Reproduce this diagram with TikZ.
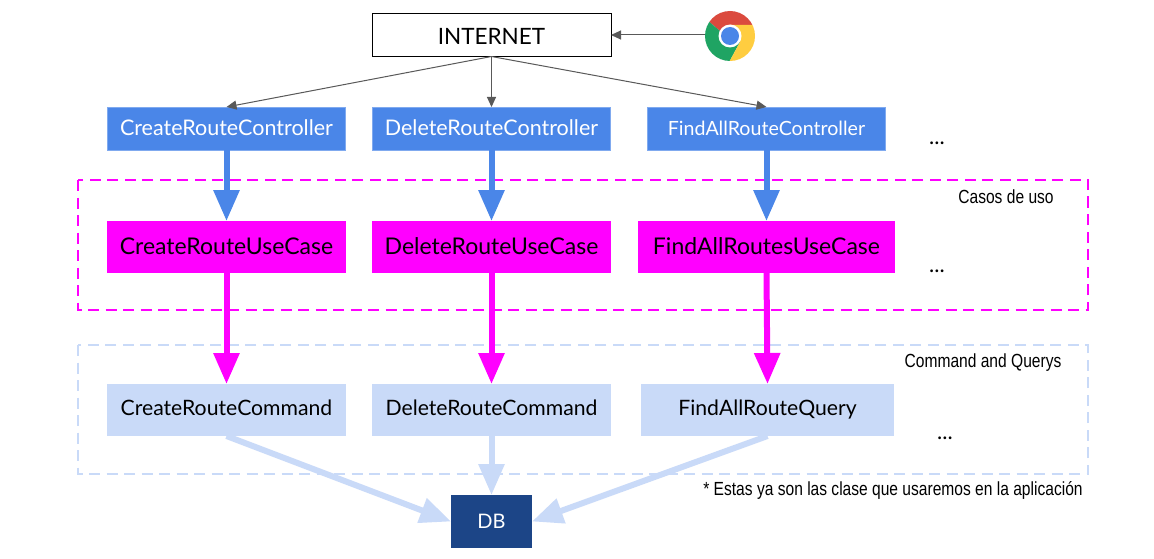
\documentclass[tikz,border=0pt]{standalone}
\usepackage{fontspec}
\setmainfont{Lato}
\newfontfamily\cond[FakeStretch=0.82]{Liberation Sans}
\usetikzlibrary{arrows.meta}
\definecolor{cblue}{HTML}{4A86E8}
\definecolor{cmag}{HTML}{FF00FF}
\definecolor{clight}{HTML}{C9DAF8}
\definecolor{cdark}{HTML}{1C4587}
\definecolor{cgrey}{HTML}{595959}
\definecolor{gred}{HTML}{DB4A3E}
\definecolor{ggreen}{HTML}{1FA463}
\definecolor{gyellow}{HTML}{FFCD40}
\tikzset{
  box/.style={inner sep=0pt,outer sep=0pt,anchor=center,font=\fontsize{21.5}{24}\selectfont},
  ctrl/.style={box,fill=cblue,text=white,draw=cblue!70!white,line width=.6pt,text height=17pt,text depth=2pt},
  usecase/.style={box,fill=cmag,text=black,font=\fontsize{23}{24}\selectfont,text height=17pt,text depth=3pt},
  cmdbox/.style={box,fill=clight,text=black,font=\fontsize{21.2}{24}\selectfont,text height=15pt,text depth=5pt},
  thin arrow/.style={draw=cgrey,line width=1pt,-{Triangle[width=9pt,length=10pt]},shorten >=0pt},
  thick arrow/.style={line width=6pt,-{Triangle[width=25pt,length=31pt]}},
  frame/.style={dashed,dash pattern=on 11pt off 6.5pt,line width=2pt},
  note/.style={inner sep=0pt,font=\cond\fontsize{19}{22}\selectfont,text=black},
  dots/.style={inner sep=0pt,font=\fontsize{22}{24}\selectfont,text=black}
}
\begin{document}
\begin{tikzpicture}[x=1pt,y=-1pt]
\useasboundingbox (0,0) rectangle (1154,559);
\fill[white] (0,0) rectangle (1154,559);
% dashed frames
\draw[frame,cmag] (78,180) rectangle (1088,310);
\draw[frame,clight] (78,345) rectangle (1088,474);
% nodes
\node[box,draw=black,line width=1pt,fill=white,minimum width=239pt,minimum height=43pt,font=\fontsize{22.5}{24}\selectfont,text height=19pt,text depth=0pt] (internet) at (491.5,35) {INTERNET};
\node[circle,inner sep=0pt,outer sep=0pt,minimum size=50pt] (chrome) at (730,35) {};
\node[ctrl,minimum width=238pt,minimum height=43pt] (c1) at (226.5,128.5) {CreateRouteController};
\node[ctrl,minimum width=238pt,minimum height=43pt] (c2) at (491.5,128.5) {DeleteRouteController};
\node[ctrl,minimum width=238pt,minimum height=43pt,font=\fontsize{19.6}{24}\selectfont] (c3) at (766.5,128.5) {FindAllRouteController};
\node[usecase,minimum width=239pt,minimum height=52pt] (u1) at (226.5,247) {CreateRouteUseCase};
\node[usecase,minimum width=239pt,minimum height=52pt] (u2) at (491.5,247) {DeleteRouteUseCase};
\node[usecase,minimum width=257pt,minimum height=52pt] (u3) at (766.5,247) {FindAllRoutesUseCase};
\node[cmdbox,minimum width=239pt,minimum height=52pt] (q1) at (226.5,410) {CreateRouteCommand};
\node[cmdbox,minimum width=239pt,minimum height=52pt] (q2) at (491.5,410) {DeleteRouteCommand};
\node[cmdbox,minimum width=253pt,minimum height=52pt] (q3) at (767.5,410) {FindAllRouteQuery};
\node[box,font=\fontsize{20}{24}\selectfont,fill=cdark,text=white,minimum width=81pt,minimum height=53pt] (db) at (491.5,521.5) {DB};
% chrome logo
\begin{scope}[shift={(730,36)}]
\clip (0,0) circle (25);
\fill[gred] (0,-11) -- (30,-11) -- (30,-30) -- (-30,-30) -- (-30,-22) -- (-10,-5) -- (0,0) -- cycle;
\fill[ggreen] (-10,-5) -- (-30,-22) -- (-30,30) -- (-3,30) -- (10,6) -- (0,0) -- cycle;
\fill[gyellow] (0,-11) -- (30,-11) -- (30,30) -- (-3,30) -- (10,6) -- (11,0) -- cycle;
\fill[white] (0,0) circle (11.5);
\fill[cblue] (0,0) circle (9);
\end{scope}
% thin connectors
\draw[thin arrow] (chrome.west) -- (internet.east);
\draw[thin arrow] (internet.south) -- (c1.north);
\draw[thin arrow] (internet.south) -- (c2.north);
\draw[thin arrow] (internet.south) -- (c3.north);
% thick connectors
\foreach \a/\b in {c1/u1,c2/u2,c3/u3} \draw[thick arrow,cblue] (\a.south) -- (\b.north);
\foreach \a/\b in {u1/q1,u2/q2,u3/q3} \draw[thick arrow,cmag] (\a.south) -- (\b.north);
\draw[thick arrow,clight] (q1.south) -- (db.west);
\draw[thick arrow,clight] (q2.south) -- (db.north);
\draw[thick arrow,clight] (q3.south) -- (db.east);
% texts
\node[dots] (d1) at (937,143) {...};
\node[dots] (d2) at (937,271) {...};
\node[dots] (d3) at (945,438) {...};
\node[note] (n1) at (1006,197) {Casos de uso};
\node[note] (n2) at (983,363) {Command and Querys};
\node[note] (n3) at (893,490) {* Estas ya son las clase que usaremos en la aplicación};
\end{tikzpicture}
\end{document}
